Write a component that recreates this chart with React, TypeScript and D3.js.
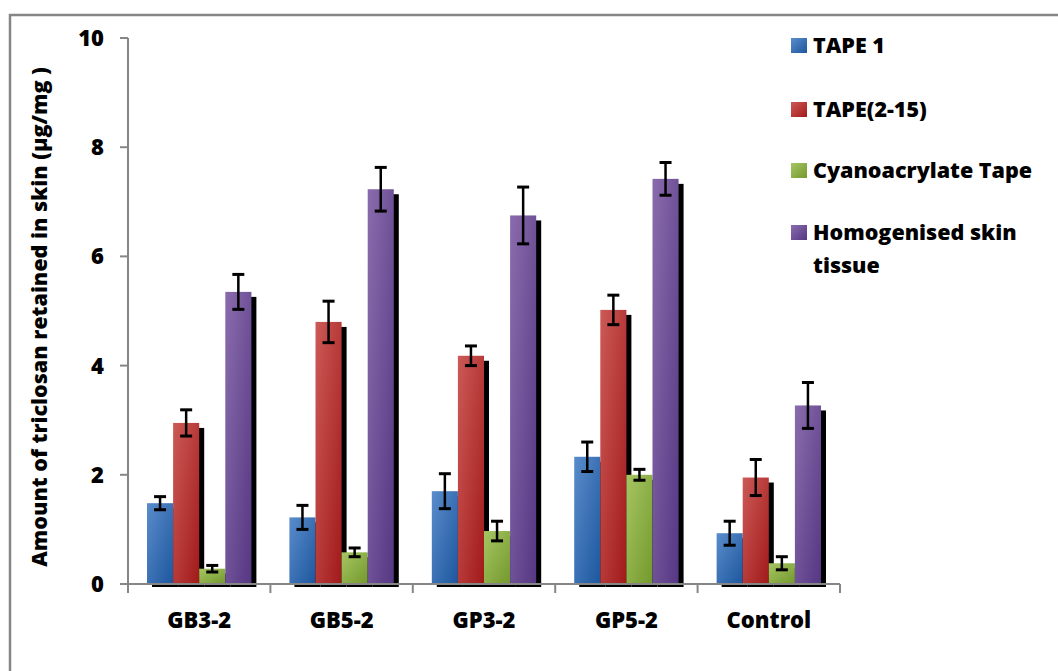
import React from "react";
import * as d3 from "d3";

const groups = ["GB3-2", "GB5-2", "GP3-2", "GP5-2", "Control"];
const seriesNames = ["TAPE 1", "TAPE(2-15)", "Cyanoacrylate Tape", "Homogenised skin tissue"];
const tape1 = [1.48, 1.22, 1.7, 2.33, 0.93];
const tape1Err = [0.12, 0.22, 0.32, 0.27, 0.22];
const tape2_15 = [2.95, 4.8, 4.18, 5.02, 1.95];
const tape2_15Err = [0.24, 0.38, 0.18, 0.27, 0.33];
const cyano = [0.28, 0.58, 0.97, 2.0, 0.38];
const cyanoErr = [0.06, 0.08, 0.18, 0.1, 0.12];
const homog = [5.35, 7.23, 6.75, 7.42, 3.27];
const homogErr = [0.32, 0.4, 0.52, 0.3, 0.42];
const yTicks = [0, 2, 4, 6, 8, 10];

const values = [tape1, tape2_15, cyano, homog];
const errors = [tape1Err, tape2_15Err, cyanoErr, homogErr];
const colorStops = [
  ["#5a8ccb", "#1d579e"],
  ["#cc5a57", "#a11a1a"],
  ["#a6c563", "#73992c"],
  ["#8a6cad", "#553783"],
];

const W = 1058;
const H = 671;
const left = 128;
const right = 840;
const top = 38;
const bottom = 584;
const font = "'Open Sans', 'Liberation Sans', sans-serif";
const axisColor = "#868686";
const fw = 800;

export default function App() {
  const x0 = d3.scaleBand<string>().domain(groups).range([left, right]).paddingInner(0.267).paddingOuter(0.1335);
  const x1 = d3.scaleBand<number>().domain(d3.range(seriesNames.length)).range([0, x0.bandwidth()]);
  const y = d3.scaleLinear().domain([0, 10]).range([bottom, top]);
  const step = x0.step();
  const edges = d3.range(groups.length + 1).map((i) => left + i * step);

  const bars: any[] = [];
  groups.forEach((g, gi) => {
    values.forEach((vals, si) => {
      bars.push({ gi, si, x: (x0(g) as number) + (x1(si) as number), w: x1.bandwidth(), v: vals[gi], e: errors[si][gi] });
    });
  });

  return (
    <svg width={W} height={H} style={{ position: "absolute", left: 0, top: 0, background: "#fff" }}>
      <defs>
        {colorStops.map((c, i) => (
          <linearGradient key={i} id={`g${i}`} x1="0" y1="0" x2="1" y2="1">
            <stop offset="0" stopColor={c[0]} />
            <stop offset="1" stopColor={c[1]} />
          </linearGradient>
        ))}
      </defs>
      <rect x={0} y={0} width={W} height={H} fill="#fff" />
      <rect x={10} y={15} width={1200} height={800} fill="none" stroke={axisColor} strokeWidth={2.5} />

      {/* shadows */}
      {bars.map((b, i) => (
        <rect key={"s" + i} x={b.x + 5} y={y(b.v) + 5} width={b.w} height={bottom + 3 - (y(b.v) + 5)} fill="#000" />
      ))}
      {/* bars */}
      {bars.map((b, i) => (
        <rect key={"b" + i} x={b.x} y={y(b.v)} width={b.w} height={bottom - y(b.v)} fill={`url(#g${b.si})`} />
      ))}

      {/* axes */}
      <line x1={left} x2={left} y1={top} y2={bottom} stroke={axisColor} strokeWidth={2} />
      <line x1={left - 8} x2={right} y1={bottom} y2={bottom} stroke={axisColor} strokeWidth={2} />
      {yTicks.map((t) => (
        <g key={t}>
          <line x1={left - 8} x2={left} y1={y(t)} y2={y(t)} stroke={axisColor} strokeWidth={2} />
          <text x={104} y={y(t) + 8} textAnchor="end" fontFamily={font} fontWeight={fw} fontSize={22} fill="#000">
            {t}
          </text>
        </g>
      ))}
      {edges.map((ex, i) => (
        <line key={i} x1={ex} x2={ex} y1={bottom} y2={bottom + 9} stroke={axisColor} strokeWidth={2} />
      ))}
      {groups.map((g) => (
        <text key={g} x={(x0(g) as number) + x0.bandwidth() / 2} y={628} textAnchor="middle" fontFamily={font} fontWeight={fw} fontSize={22} fill="#000">
          {g}
        </text>
      ))}

      {/* error bars */}
      {bars.map((b, i) => {
        const cx = b.x + b.w / 2;
        return (
          <g key={"e" + i} stroke="#000">
            <line x1={cx} x2={cx} y1={y(b.v + b.e)} y2={y(b.v - b.e)} strokeWidth={2.5} />
            <line x1={cx - 6} x2={cx + 6} y1={y(b.v + b.e)} y2={y(b.v + b.e)} strokeWidth={3} />
            <line x1={cx - 6} x2={cx + 6} y1={y(b.v - b.e)} y2={y(b.v - b.e)} strokeWidth={3} />
          </g>
        );
      })}

      <text
        transform={`translate(47, ${(top + bottom) / 2 + 6}) rotate(-90)`}
        textAnchor="middle"
        fontFamily={font}
        fontWeight={fw}
        fontSize={21.5}
        fill="#000"
      >
        Amount of triclosan retained in skin (µg/mg )
      </text>

      {/* legend */}
      {seriesNames.map((s, i) => {
        const ys = [38, 102, 163, 225][i];
        const lines = i === 3 ? ["Homogenised skin", "tissue"] : [s];
        return (
          <g key={s}>
            <rect x={791} y={ys} width={16} height={15} fill={`url(#g${i})`} />
            {lines.map((ln, li) => (
              <text key={li} x={813} y={ys + 15 + li * 33} fontFamily={font} fontWeight={fw} fontSize={21.5} fill="#000">
                {ln}
              </text>
            ))}
          </g>
        );
      })}
    </svg>
  );
}
